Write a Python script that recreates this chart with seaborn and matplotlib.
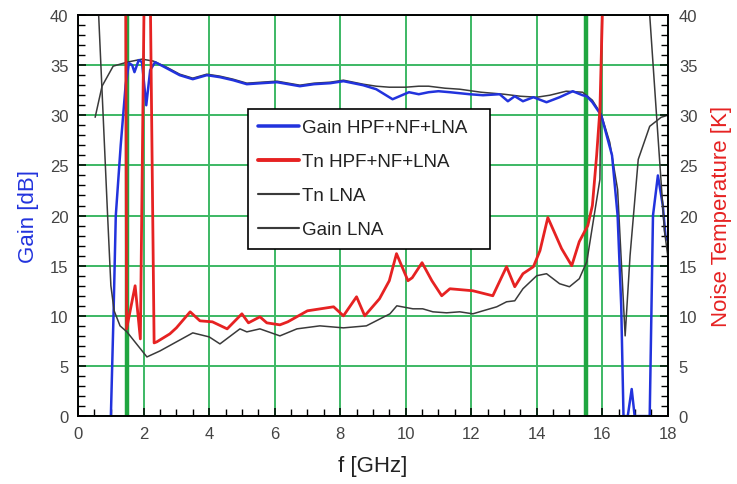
import matplotlib
matplotlib.use("Agg")
import matplotlib.pyplot as plt
import seaborn as sns
import pandas as pd
from matplotlib.ticker import MultipleLocator

# Gain of the full chain (HPF + notch filter + LNA), dB
freq_gain_chain = [1.0, 1.08, 1.15, 1.3, 1.45, 1.55, 1.65, 1.72, 1.85, 1.95, 2.08, 2.2,
                   2.35, 2.7, 3.1, 3.5, 3.93, 4.33, 4.73, 5.15, 5.6, 6.07, 6.77, 7.2,
                   7.7, 8.1, 8.7, 9.1, 9.6, 10.1, 10.4, 10.7, 11.0, 11.35, 11.95, 12.36,
                   12.87, 13.12, 13.33, 13.58, 13.9, 14.3, 14.7, 15.1, 15.4, 15.53, 15.7,
                   15.97, 16.3, 16.47, 16.58, 16.65, 16.78, 16.9, 16.99, 17.45, 17.55,
                   17.7, 17.85, 17.93, 18.0]
gain_chain = [0, 10, 20, 27, 33, 35.2, 35.0, 34.3, 35.5, 35.3, 31.0, 34.5,
              35.3, 34.7, 34.0, 33.6, 34.0, 33.8, 33.5, 33.1, 33.2, 33.3, 32.9, 33.1,
              33.2, 33.4, 33.0, 32.6, 31.6, 32.3, 32.1, 32.3, 32.4, 32.3, 32.1, 32.0,
              32.1, 31.4, 31.9, 31.4, 31.8, 31.3, 31.8, 32.4, 32.0, 31.9, 31.3,
              30.0, 26.0, 20.0, 11.0, 0, 0, 2.7, 0, 0, 20.0,
              24.0, 21.0, 18.0, 17.5]

# Noise temperature of the full chain, K
freq_tn_chain = [1.44, 1.48, 1.74, 1.9, 2.06, 2.16, 2.32, 2.4, 2.8, 3.0, 3.42, 3.72,
                 4.1, 4.55, 5.0, 5.2, 5.55, 5.76, 6.16, 6.4, 7.0, 7.4, 7.8, 8.1, 8.5,
                 8.75, 9.2, 9.5, 9.72, 10.07, 10.2, 10.5, 10.8, 11.1, 11.35, 12.05,
                 12.66, 13.08, 13.33, 13.58, 13.9, 14.1, 14.34, 14.76, 15.07, 15.3,
                 15.56, 15.7, 15.83, 15.93, 16.02]
tn_chain = [60, 8.7, 13.0, 7.7, 55, 55, 7.3, 7.4, 8.2, 8.8, 10.4, 9.5,
            9.4, 8.7, 10.2, 9.3, 9.9, 9.3, 9.1, 9.4, 10.5, 10.7, 10.9, 10.0, 11.9,
            10.0, 11.7, 13.5, 16.2, 13.5, 13.8, 15.3, 13.5, 12.0, 12.7, 12.5,
            12.0, 14.9, 12.9, 14.2, 14.9, 16.5, 19.8, 16.7, 15.0, 17.4,
            19.0, 21.0, 26.0, 30.6, 42]

# Noise temperature of the LNA alone, K
freq_tn_lna = [0.62, 0.9, 1.0, 1.1, 1.28, 1.49, 2.1, 2.5, 3.0, 3.5, 4.0, 4.33, 4.94,
               5.15, 5.55, 6.16, 6.68, 7.38, 8.1, 8.8, 9.52, 9.73, 10.22, 10.52, 10.83,
               11.25, 11.65, 12.05, 12.36, 12.78, 13.08, 13.33, 13.58, 14.0, 14.3, 14.7,
               15.0, 15.3, 15.53, 15.72, 15.93, 16.05, 16.6, 17.35, 17.45, 17.7, 17.9,
               18.0]
tn_lna = [40.5, 20, 13, 10.5, 9.0, 8.4, 5.9, 6.5, 7.4, 8.3, 7.9, 7.2, 8.7,
          8.4, 8.7, 8.0, 8.7, 9.0, 8.8, 9.0, 10.2, 11.0, 10.7, 10.7, 10.4,
          10.3, 10.4, 10.2, 10.5, 10.9, 11.4, 11.5, 12.7, 14.0, 14.2, 13.2,
          12.9, 13.7, 15.4, 19.3, 23.6, 60, 60, 60, 40, 28, 18.5,
          16]

# Gain of the LNA alone, dB
freq_gain_lna = [0.52, 0.73, 1.07, 1.5, 1.95, 2.3, 2.7, 3.1, 3.5, 3.93, 4.33, 4.73,
                 5.15, 5.6, 6.07, 6.77, 7.2, 7.7, 8.1, 8.7, 9.1, 9.5, 10.0, 10.4, 10.7,
                 11.2, 11.65, 12.3, 13.0, 13.5, 14.0, 14.4, 14.9, 15.4, 15.7, 15.97,
                 16.23, 16.47, 16.7, 16.85, 17.1, 17.45, 17.8, 18.0]
gain_lna = [29.8, 32.9, 34.9, 35.3, 35.6, 35.4, 34.8, 34.1, 33.7, 34.1, 33.9, 33.6,
            33.2, 33.3, 33.4, 33.0, 33.2, 33.3, 33.5, 33.1, 32.9, 32.8, 32.8, 32.9, 32.9,
            32.7, 32.6, 32.3, 32.1, 31.9, 31.8, 32.0, 32.4, 32.3, 31.5, 30.1,
            27.3, 22.6, 8.0, 16.0, 25.6, 28.9, 29.8, 30.0]

# band edge markers, GHz
band_edges = [1.5, 15.5]

BLUE = '#2233dd'
RED = '#e62222'
DARK = '#3a3a3a'
GRID = '#3cb864'
EDGE = '#1fa640'
TICK = '#444444'

sns.set_theme(style='white')
plt.rcParams['font.family'] = ['Liberation Sans', 'DejaVu Sans']

fig = plt.figure(figsize=(7.37, 4.85), dpi=100)
ax = fig.add_axes([0.106, 0.140, 0.800, 0.827])
ax2 = ax.twinx()

ax.grid(True, which='major', color=GRID, linewidth=1.4)
ax.set_axisbelow(True)
for f in band_edges:
    ax.axvline(f, color=EDGE, linewidth=3.2, zorder=1.5)

df_gc = pd.DataFrame({'f': freq_gain_chain, 'v': gain_chain})
df_gl = pd.DataFrame({'f': freq_gain_lna, 'v': gain_lna})
df_tc = pd.DataFrame({'f': freq_tn_chain, 'v': tn_chain})
df_tl = pd.DataFrame({'f': freq_tn_lna, 'v': tn_lna})

sns.lineplot(data=df_gl, x='f', y='v', ax=ax, color=DARK, linewidth=1.1,
             estimator=None, sort=False, label='Gain LNA', legend=False)
sns.lineplot(data=df_gc, x='f', y='v', ax=ax, color=BLUE, linewidth=1.8,
             estimator=None, sort=False, label='Gain HPF+NF+LNA', legend=False)
sns.lineplot(data=df_tl, x='f', y='v', ax=ax2, color=DARK, linewidth=1.1,
             estimator=None, sort=False, label='Tn LNA', legend=False)
sns.lineplot(data=df_tc, x='f', y='v', ax=ax2, color=RED, linewidth=2.0,
             estimator=None, sort=False, label='Tn HPF+NF+LNA', legend=False)

for a in (ax, ax2):
    a.set_xlim(0, 18)
    a.set_ylim(0, 40)
    a.yaxis.set_major_locator(MultipleLocator(5))
    a.yaxis.set_minor_locator(MultipleLocator(1))
    for s in a.spines.values():
        s.set_color('black')
        s.set_linewidth(1.2)

ax.xaxis.set_major_locator(MultipleLocator(2))
ax.xaxis.set_minor_locator(MultipleLocator(0.5))
ax.tick_params(axis='both', which='both', direction='in', top=False, right=False,
               left=True, bottom=True, colors='black', labelcolor=TICK, labelsize=12,
               pad=7)
ax.tick_params(which='major', length=6, width=1.1)
ax.tick_params(which='minor', length=5, width=1.0)
ax2.tick_params(axis='y', which='both', direction='in', right=True, left=False,
                colors='black', labelcolor=TICK, labelsize=12, pad=8)
ax2.tick_params(which='major', length=6, width=1.1)
ax2.tick_params(which='minor', length=5, width=1.0)
ax2.grid(False)

ax.set_xlabel('f [GHz]', fontsize=16, color='#222222', labelpad=10)
ax.set_ylabel('Gain [dB]', fontsize=16, color=BLUE, labelpad=8)
ax2.set_ylabel('Noise Temperature [K]', fontsize=16, color=RED, labelpad=10)

h1, l1 = ax.get_legend_handles_labels()
h2, l2 = ax2.get_legend_handles_labels()
lookup = dict(zip(l1 + l2, h1 + h2))
order = ['Gain HPF+NF+LNA', 'Tn HPF+NF+LNA', 'Tn LNA', 'Gain LNA']
leg = ax2.legend([lookup[k] for k in order], order, loc='upper left',
                 bbox_to_anchor=(0.288, 0.0, 0.41, 0.766), mode='expand',
                 borderaxespad=0, fontsize=13.5, frameon=True,
                 fancybox=False, framealpha=1, edgecolor='black', handlelength=2.2,
                 handletextpad=0.15, labelspacing=0.9, borderpad=0.55)
leg.get_frame().set_linewidth(1.2)
for line in leg.get_lines():
    line.set_linewidth(line.get_linewidth() * 1.4)
for t in leg.get_texts():
    t.set_color('#222222')

fig.savefig('out.png', dpi=100)
